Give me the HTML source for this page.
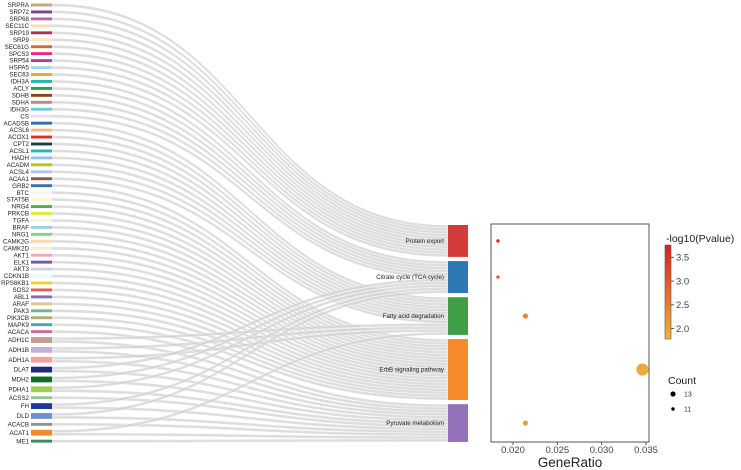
<!DOCTYPE html>
<html><head><meta charset="utf-8"><style>
html,body{margin:0;padding:0;background:#fff;}
svg{display:block;font-family:"Liberation Sans",Arial,sans-serif;}
</style></head><body>
<svg id="chart" width="741" height="470" viewBox="0 0 741 470"></svg>
<script>
const genes=["SRPRA","SRP72","SRP68","SEC11C","SRP19","SRP9","SEC61G","SPCS3","SRP54","HSPA5","SEC63","IDH3A","ACLY","SDHB","SDHA","IDH3G","CS","ACADSB","ACSL6","ACOX1","CPT2","ACSL1","HADH","ACADM","ACSL4","ACAA1","GRB2","BTC","STAT5B","NRG4","PRKCB","TGFA","BRAF","NRG1","CAMK2G","CAMK2D","AKT1","ELK1","AKT3","CDKN1B","RPS6KB1","SOS2","ABL1","ARAF","PAK3","PIK3CB","MAPK9","ACACA","ADH1C","ADH1B","ADH1A","DLAT","MDH2","PDHA1","ACSS2","FH","DLD","ACACB","ACAT1","ME1"];
// pathway indices per gene (0 Protein export,1 Citrate,2 Fatty,3 ErbB,4 Pyruvate)
const genePathways=[[0],[0],[0],[0],[0],[0],[0],[0],[0],[0],[0],[1],[1],[1],[1],[1],[1],[2],[2],[2],[2],[2],[2],[2],[2],[2],[3],[3],[3],[3],[3],[3],[3],[3],[3],[3],[3],[3],[3],[3],[3],[3],[3],[3],[3],[3],[3],[4],[2,4],[2,4],[2,4],[1,4],[1,4],[1,4],[4],[1,4],[1,4],[4],[2,4],[4]];
const geneColors=["#c9a27e","#7b3f9e","#b565a7","#f5deb3","#a8325e","#fde5c6","#c8703a","#e6248c","#b03fa0","#a8d8e8","#f2a13b","#27b3b3","#2e9e44","#8b4513","#b88b7e","#6ecad3","#e4e4f2","#3070a8","#f5b88a","#d62f2f","#1f3a4a","#2ab0c0","#8fc4e6","#bcbd22","#aec7e8","#8c564b","#3a6fb0","#f6f6f6","#fff6d8","#5aae3c","#e6e640","#eef8e4","#9ad0e8","#8ccf7e","#fdd9a8","#fdebd0","#f4a6c0","#6a5aaa","#d0d0e0","#eefafa","#f0d030","#e06050","#8a6ab5","#d8c890","#68b888","#a8b070","#58a0a8","#d068a0","#c49c94","#c5b0d5","#f4a0a0","#1f2a7a","#1a6b2a","#9acd50","#90c890","#203890","#7090d0","#909090","#f08c30","#3a8a5a"];
const pathways=["Protein export","Citrate cycle (TCA cycle)","Fatty acid degradation","ErbB signaling pathway","Pyruvate metabolism"];
const pathwayColors=["#d43a3a","#2f78b4","#3f9e46","#f58a2a","#9370b8"];
const geneRatio=[0.0183,0.0183,0.0214,0.0346,0.0214];
const counts=[11,11,13,21,13];
const logP=[3.62,3.0,2.42,1.9,2.08];
const xTicks=[0.020,0.025,0.030,0.035];
const cbTicks=[2.0,2.5,3.0,3.5];

const NS="http://www.w3.org/2000/svg";
const svg=document.getElementById('chart');
function mk(t,a,p){const e=document.createElementNS(NS,t);for(const k in a)e.setAttribute(k,a[k]);(p||svg).appendChild(e);return e;}
const U=2.9,G=4.05,TOP=3.55;
// gene node positions
const gy=[];let y=TOP;
genes.forEach((g,i)=>{gy.push(y);y+=genePathways[i].length*U+G;});
// pathway positions
const PT=225,PG=4.2;const py=[];let yy=PT;
counts.forEach((c,i)=>{py.push(yy);yy+=c*U+PG;});
const gLinks=svg.appendChild(document.createElementNS(NS,'g'));
const pOff=counts.map(()=>0);
genes.forEach((g,i)=>{
  genePathways[i].forEach((p,k)=>{
    const y0=gy[i]+k*U,y1=py[p]+pOff[p];pOff[p]+=U;
    const x0=52,x1=448,xm=(x0+x1)/2;
    const path=mk('path',{d:`M${x0},${y0}C${xm},${y0} ${xm},${y1} ${x1},${y1}L${x1},${y1+U}C${xm},${y1+U} ${xm},${y0+U} ${x0},${y0+U}Z`,fill:'#cfcfcf','fill-opacity':0.7,stroke:'#fff','stroke-width':0.35},gLinks);
    
    
  });
});
genes.forEach((g,i)=>{
  const h=genePathways[i].length*U;
  const r=mk('rect',{x:31,y:gy[i],width:21,height:h,fill:geneColors[i]});
  
  
  const t=mk('text',{x:29,y:gy[i]+h/2+2.1,'text-anchor':'end','font-size':6.2,fill:'#222'});
  t.textContent=g;
  
  
});
pathways.forEach((p,i)=>{
  const h=counts[i]*U;
  const r=mk('rect',{x:448,y:py[i],width:20,height:h,fill:pathwayColors[i]});
  
  
  const t=mk('text',{x:444,y:py[i]+h/2+2,'text-anchor':'end','font-size':6.2,fill:'#222'});
  t.textContent=p;
  
  
});
// dot plot
const FX0=491,FX1=649,FY0=224,FY1=442;
const xs=v=>513+(v-0.020)*(133/0.015);
const fr=mk('rect',{x:FX0,y:FY0,width:FX1-FX0,height:FY1-FY0,fill:'none',stroke:'#555','stroke-width':1});


xTicks.forEach(v=>{
  mk('line',{x1:xs(v),x2:xs(v),y1:FY1,y2:FY1+3,stroke:'#555'});
  const t=mk('text',{x:xs(v),y:453,'text-anchor':'middle','font-size':9.5,fill:'#444'});
  t.textContent=v.toFixed(3);
  
  
});
const xt=mk('text',{x:570,y:467,'text-anchor':'middle','font-size':13.5,fill:'#222'});
xt.textContent='GeneRatio';


const CMIN=1.78,CMAX=3.76;
function col(v){const t=Math.max(0,Math.min(1,(v-CMIN)/(CMAX-CMIN)));
  const a=[242,178,62],b=[214,32,32];
  return `rgb(${a.map((c,i)=>Math.round(c+(b[i]-c)*t)).join(',')})`;}
const rad=c=>1.7+(c-11)*0.44;
pathways.forEach((p,i)=>{
  const c=mk('circle',{cx:xs(geneRatio[i]),cy:py[i]+counts[i]*U/2,r:rad(counts[i]),fill:col(logP[i])});
  
  
});
// colorbar
const defs=mk('defs',{});
const lg=mk('linearGradient',{id:'cb',x1:0,y1:1,x2:0,y2:0},defs);
mk('stop',{offset:0,'stop-color':col(CMIN)},lg);
mk('stop',{offset:0.5,'stop-color':col((CMIN+CMAX)/2)},lg);
mk('stop',{offset:1,'stop-color':col(CMAX)},lg);
const CB0=245,CB1=339;
const cys=v=>CB1-(v-CMIN)/(CMAX-CMIN)*(CB1-CB0);
const cb=mk('rect',{x:665,y:CB0,width:6,height:CB1-CB0,fill:'url(#cb)',stroke:'#555','stroke-width':0.6});


cbTicks.forEach(v=>{
  mk('line',{x1:671,x2:674,y1:cys(v),y2:cys(v),stroke:'#555'});
  const t=mk('text',{x:676,y:cys(v)+3.3,'font-size':9.5,fill:'#444'});
  t.textContent=v.toFixed(1);
  
  
});
const ct=mk('text',{x:666,y:242,'font-size':10.5,fill:'#222'});
ct.textContent='-log10(Pvalue)';


const lt=mk('text',{x:668,y:384,'font-size':10.5,fill:'#222'});
lt.textContent='Count';


[[13,394],[11,409]].forEach(([c,yv])=>{
  const d=mk('circle',{cx:673,cy:yv,r:rad(c),fill:'#000'});
  
  
  const t=mk('text',{x:684,y:yv+2.5,'font-size':7,fill:'#333'});
  t.textContent=c;
  
  
});
</script>
</body></html>
